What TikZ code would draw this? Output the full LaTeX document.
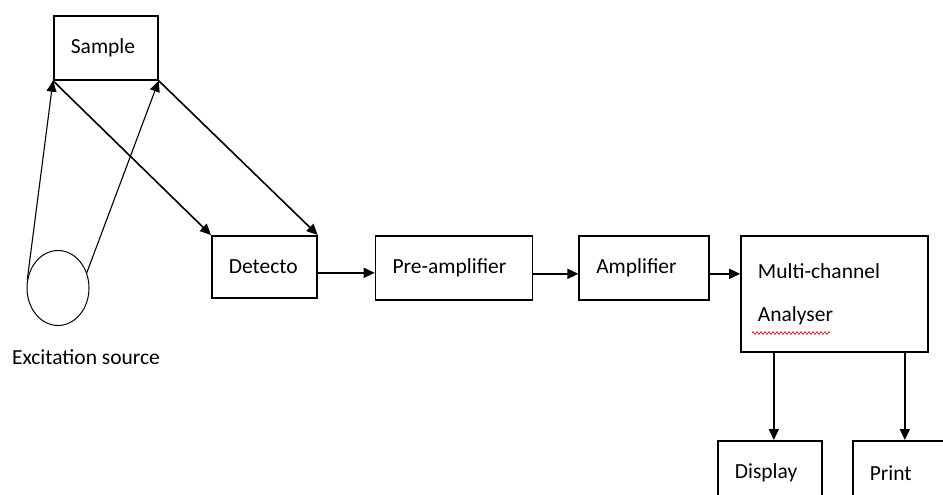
\documentclass[tikz,border=0pt]{standalone}
\usepackage{fontspec}
\setmainfont{Carlito}
\usetikzlibrary{arrows.meta,positioning,shapes.geometric,decorations.pathmorphing}

\begin{document}
\begin{tikzpicture}[
  x=1pt, y=-1pt,
  >={Triangle[length=11pt,width=10pt]},
  % one box style; sizes per node below
  B/.style={rectangle, draw, line width=1.7pt, align=left,
            inner xsep=17pt, inner ysep=0pt,
            font=\fontsize{21.5}{43}\selectfont},
  arr/.style={->, line width=1.6pt},
  ray/.style={->, line width=1.1pt},
]
\clip (0,0) rectangle (943,495);

%% ── Source and sample ─────────────────────────────────────────────
\node[B, text width=70pt, minimum height=64pt, anchor=north west] (smp) at (53,15) {Sample};
\node[ellipse, draw, line width=1pt, minimum width=62pt, minimum height=75pt] (src) at (58,288) {};
\node[font=\fontsize{21.5}{25}\selectfont] (srclbl) at (86,357) {Excitation source};

%% ── Signal chain ──────────────────────────────────────────────────
\node[B, text width=71pt, minimum height=62pt, anchor=north west] (det) at (211,235) {Detecto};
\node[B, text width=123pt, minimum height=64pt,
      right=57pt of det.north east, anchor=north west] (pre) {Pre-amplifier};
\node[B, text width=96pt, minimum height=64pt,
      right=45pt of pre.north east, anchor=north west] (amp) {Amplifier};
\node[B, text width=153pt, minimum height=116pt,
      right=30pt of amp.north east, anchor=north west] (mca) {Multi-channel\\Analyser};

%% ── Outputs ───────────────────────────────────────────────────────
\node[B, text width=70pt, minimum height=64pt, anchor=north west] (disp) at (717,440) {Display};
\node[B, text width=70pt, minimum height=64pt, anchor=north west] (prt) at (852,440) {Print};

%% ── Arrows ────────────────────────────────────────────────────────
\draw[ray] (src.165) -- (smp.south west);
\draw[ray] (src.28) -- (smp.south east);
\draw[arr] (smp.south west) -- (det.north west);
\draw[arr] (smp.south east) -- (det.north east);
\draw[arr] ([yshift=-6pt]det.east) -- ([yshift=-6pt]det.east -| pre.west);
\draw[arr] ([yshift=-6pt]pre.east) -- ([yshift=-6pt]pre.east -| amp.west);
\draw[arr] ([yshift=-6pt]amp.east) -- ([yshift=-6pt]amp.east -| mca.west);
\draw[arr] ([xshift=4pt]disp.north |- mca.south) -- ([xshift=4pt]disp.north);
\draw[arr] (prt.north |- mca.south) -- (prt.north);

%% spell-check squiggle under Analyser
\draw[red, line width=0.6pt, decorate,
      decoration={zigzag, amplitude=1.5pt, segment length=4pt}] (752,333) -- (830,333);

\end{tikzpicture}
\end{document}
